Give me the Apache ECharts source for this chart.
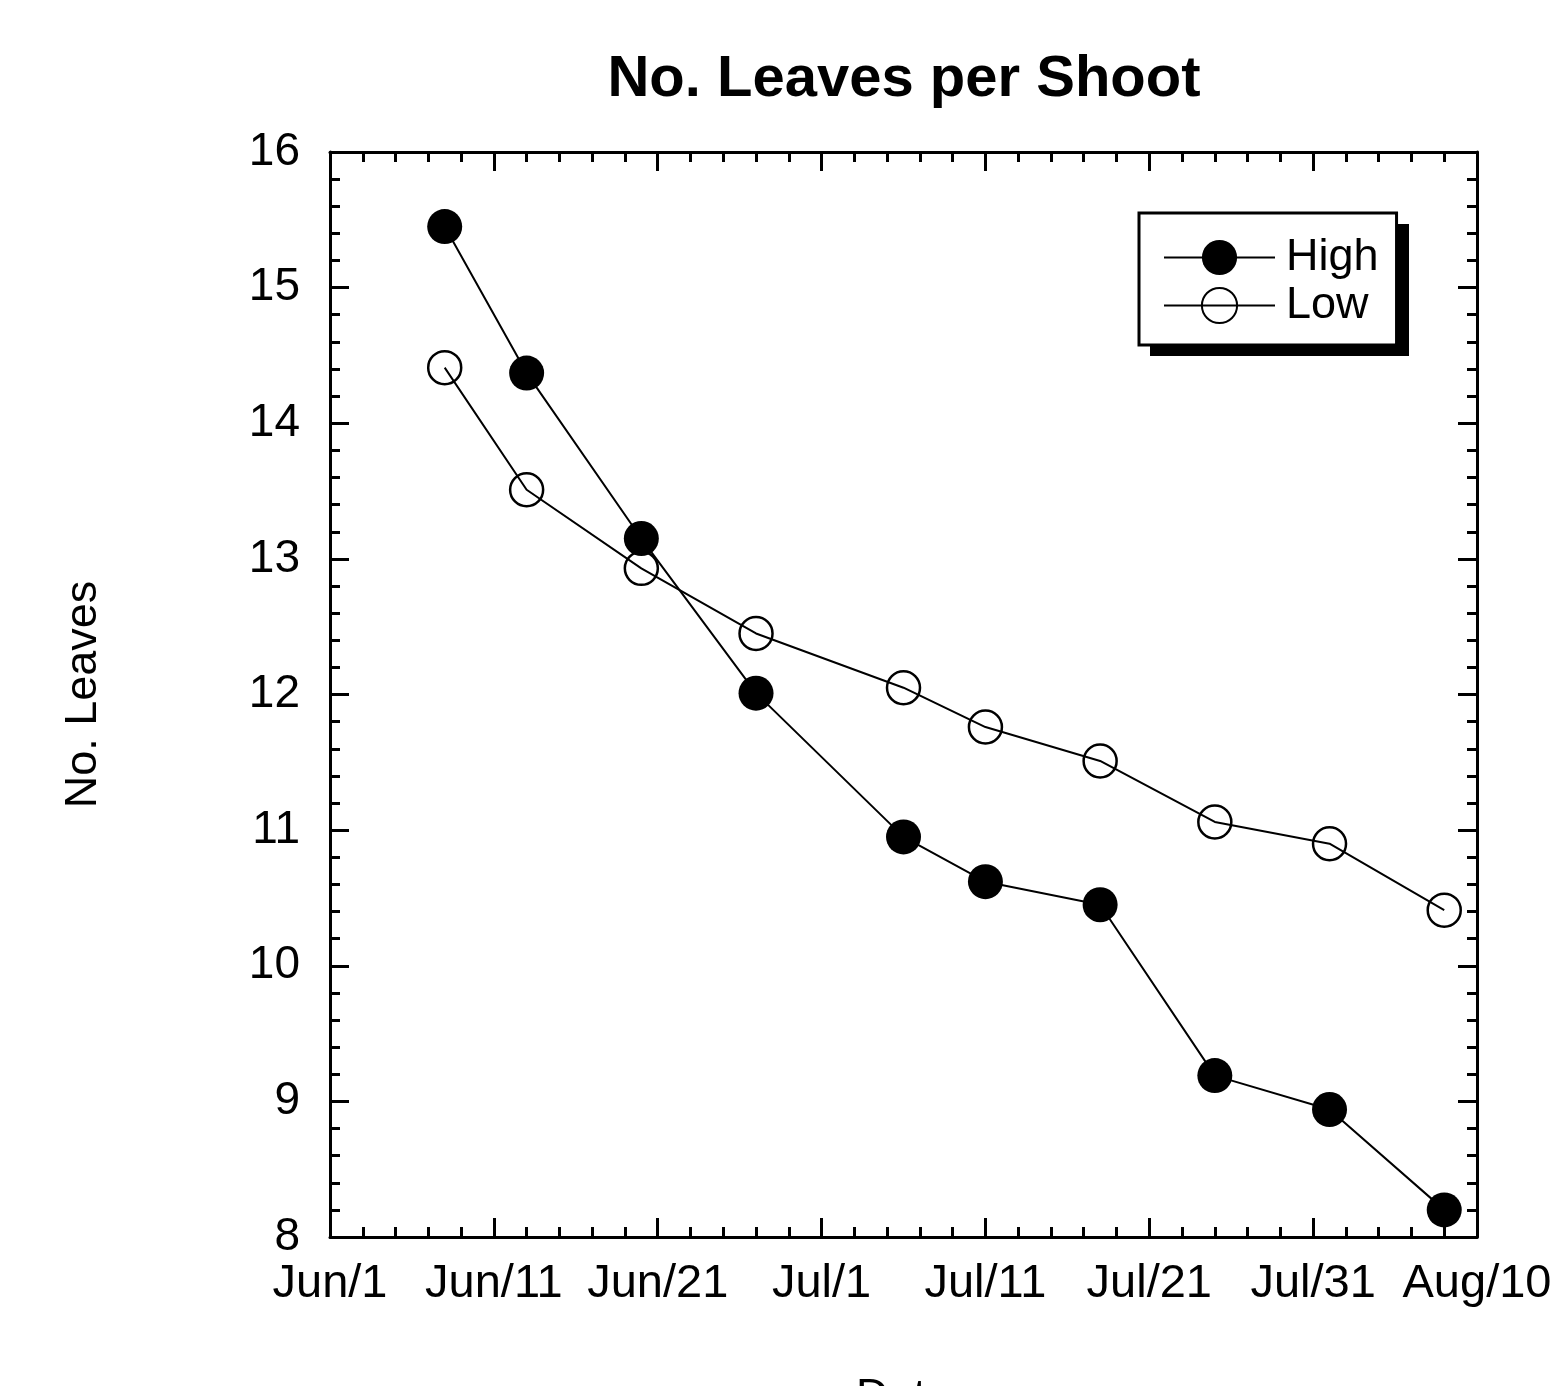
<!DOCTYPE html>
<html>
<head>
<meta charset="utf-8">
<script src="https://cdn.jsdelivr.net/npm/echarts@6/dist/echarts.min.js"></script>
<style>
html,body{margin:0;padding:0;background:#fff;}
#chart{width:1557px;height:1386px;}
</style>
</head>
<body>
<div id="chart"></div>
<script>
// Days after Jun 1
const sampleDays = [7, 12, 19, 26, 35, 40, 47, 54, 61, 68];
const highLeaves = [15.45, 14.37, 13.15, 12.01, 10.95, 10.62, 10.45, 9.19, 8.94, 8.20];
const lowLeaves  = [14.41, 13.51, 12.93, 12.45, 12.05, 11.76, 11.51, 11.06, 10.90, 10.41];
const xTickLabels = ["Jun/1", "Jun/11", "Jun/21", "Jul/1", "Jul/11", "Jul/21", "Jul/31", "Aug/10"];
const yTickLabels = ["8", "9", "10", "11", "12", "13", "14", "15", "16"];

const FONT = "Liberation Sans";
const chart = echarts.init(document.getElementById('chart'), null, {renderer: 'canvas'});

function pairs(xs, ys){ return xs.map((x,i)=>[x, ys[i]]); }

const axisLine = {show: true, onZero: false, lineStyle: {color: '#000', width: 3}};
const axisTick = {show: true, inside: true, length: 19, lineStyle: {color: '#000', width: 3}};
const minorTick = {show: true, splitNumber: 5, length: 10, lineStyle: {color: '#000', width: 3}};

// legend box geometry (decoration only)
const LEG = {left: 1139, top: 213, w: 259, h: 132, shadow: 11};

const option = {
  backgroundColor: '#fff',
  animation: false,
  title: {
    text: 'No. Leaves per Shoot',
    left: 899, top: 46,
    textAlign: 'center',
    textStyle: {fontFamily: FONT, fontSize: 58, fontWeight: 'bold', color: '#000'}
  },
  graphic: [{
    type: 'rect', z: 0,
    shape: {x: LEG.left + LEG.shadow, y: LEG.top + LEG.shadow, width: LEG.w, height: LEG.h},
    style: {fill: '#000'}
  }],
  legend: {
    left: LEG.left, top: LEG.top,
    orient: 'vertical',
    itemWidth: 111, itemHeight: 44, itemGap: 3,
    padding: [22, 18, 17, 24],
    borderColor: '#000', borderWidth: 3,
    backgroundColor: '#fff',
    z: 5,
    textStyle: {fontFamily: FONT, fontSize: 45, color: '#000', padding: [0, 0, 0, 6]},
    data: ['High', 'Low']
  },
  grid: {left: 330, right: 80, top: 152, bottom: 149, outerBoundsMode: 'none', containLabel: false},
  xAxis: [{
    type: 'value', min: 0, max: 70, interval: 10,
    position: 'bottom',
    axisLine, axisTick, minorTick,
    splitLine: {show: false}, minorSplitLine: {show: false},
    axisLabel: {
      margin: 24, fontFamily: FONT, fontSize: 47, color: '#000',
      formatter: v => xTickLabels[Math.round(v / 10)] || ''
    },
    name: 'Date', nameLocation: 'middle', nameGap: 138,
    nameTextStyle: {fontFamily: FONT, fontSize: 45, color: '#000'}
  }, {
    type: 'value', min: 0, max: 70, interval: 10,
    position: 'top',
    axisLine, axisTick, minorTick,
    splitLine: {show: false},
    axisLabel: {show: false}
  }],
  yAxis: [{
    type: 'value', min: 8, max: 16, interval: 1,
    position: 'left',
    axisLine, axisTick, minorTick,
    splitLine: {show: false}, minorSplitLine: {show: false},
    axisLabel: {
      margin: 30, fontFamily: FONT, fontSize: 46, color: '#000',
      formatter: v => yTickLabels[Math.round(v - 8)] || ''
    },
    name: 'No. Leaves', nameLocation: 'middle', nameGap: 224,
    nameTextStyle: {fontFamily: FONT, fontSize: 45, color: '#000'}
  }, {
    type: 'value', min: 8, max: 16, interval: 1,
    position: 'right',
    axisLine, axisTick, minorTick,
    splitLine: {show: false},
    axisLabel: {show: false}
  }],
  series: [{
    name: 'High', type: 'line',
    xAxisIndex: 0, yAxisIndex: 0,
    data: pairs(sampleDays, highLeaves),
    symbol: 'circle', symbolSize: 35,
    lineStyle: {color: '#000', width: 2},
    itemStyle: {color: '#000'},
    z: 3
  }, {
    name: 'Low', type: 'line',
    xAxisIndex: 0, yAxisIndex: 0,
    data: pairs(sampleDays, lowLeaves),
    symbol: 'circle', symbolSize: 33,
    lineStyle: {color: '#000', width: 2},
    itemStyle: {color: 'rgba(255,255,255,0)', borderColor: '#000', borderWidth: 2.5},
    z: 2
  }]
};
chart.setOption(option);
</script>
</body>
</html>
